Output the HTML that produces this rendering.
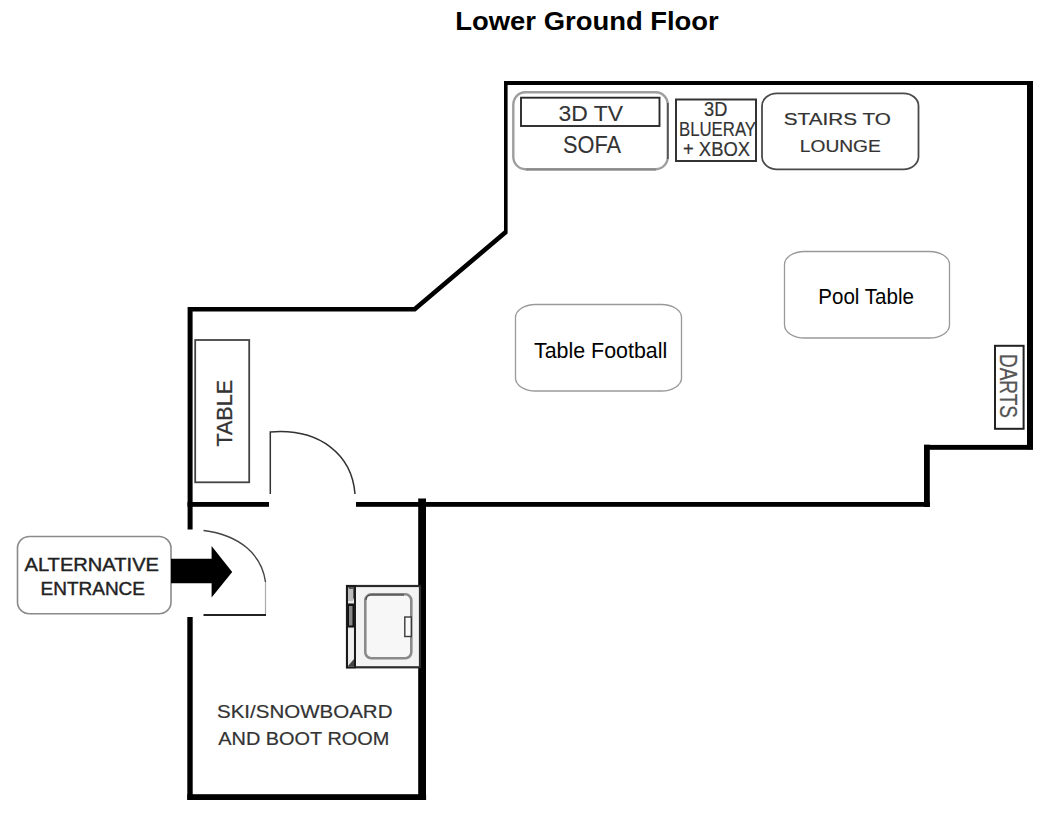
<!DOCTYPE html>
<html><head><meta charset="utf-8">
<style>
html,body{margin:0;padding:0;background:#fff;width:1062px;height:829px;overflow:hidden}
svg{display:block}
text{font-family:"Liberation Sans",sans-serif}
</style></head>
<body>
<svg width="1062" height="829" viewBox="0 0 1062 829">
<rect width="1062" height="829" fill="#fff"/>
<!-- title -->
<text x="455.3" y="30.4" font-size="26.5" font-weight="bold" fill="#000" textLength="263.5" lengthAdjust="spacingAndGlyphs">Lower Ground Floor</text>

<!-- walls -->
<g fill="#000">
  <path d="M187.6 307 L413.7 307 L504 230.5 L504 81 L507.6 81 L507.6 233.5 L415.5 311.5 L192.6 311.5 L192.6 529.5 L187.6 529.5 Z"/>
  <rect x="504" y="81" width="529" height="4"/>
  <rect x="1027" y="81" width="6" height="368.3"/>
  <rect x="924" y="444.9" width="109" height="4.9"/>
  <rect x="924" y="444.7" width="5.8" height="62.3"/>
  <rect x="356" y="502" width="573.8" height="4.8"/>
  <rect x="187.5" y="502" width="81.5" height="4.8"/>
  <rect x="187.3" y="617" width="5.4" height="183"/>
  <rect x="187.3" y="794.2" width="238.8" height="5.8"/>
  <rect x="418.2" y="498.5" width="7.8" height="301.5"/>
</g>

<!-- sofa -->
<rect x="513.3" y="92.2" width="154.5" height="77" rx="12" ry="12.5" fill="none" stroke="#9e9e9e" stroke-width="2.4"/>
<path d="M667.8 103 V159" fill="none" stroke="#555" stroke-width="1.7"/>
<path d="M526 169.4 H656" fill="none" stroke="#888" stroke-width="2"/>
<rect x="521" y="97.7" width="138.5" height="28.3" fill="#fff" stroke="#2a2a2a" stroke-width="1.9"/>
<text x="558.6" y="120.5" font-size="22.5" fill="#333" stroke="#333" stroke-width="0.1" textLength="64.5" lengthAdjust="spacingAndGlyphs">3D TV</text>
<text x="563" y="152.9" font-size="23" fill="#333" stroke="#333" stroke-width="0.1" textLength="58" lengthAdjust="spacingAndGlyphs">SOFA</text>

<!-- blueray -->
<rect x="676" y="99.5" width="80" height="61.5" fill="none" stroke="#333" stroke-width="2"/>
<text x="704" y="116.4" font-size="20" fill="#333" stroke="#333" stroke-width="0.2" textLength="23.3" lengthAdjust="spacingAndGlyphs">3D</text>
<text x="679" y="135.8" font-size="21" fill="#333" stroke="#333" stroke-width="0.2" textLength="77" lengthAdjust="spacingAndGlyphs">BLUERAY</text>
<text x="683" y="156.4" font-size="20.5" fill="#333" stroke="#333" stroke-width="0.2" textLength="67" lengthAdjust="spacingAndGlyphs">+ XBOX</text>

<!-- stairs -->
<rect x="762" y="93.4" width="156.5" height="75.9" rx="15" ry="12.5" fill="none" stroke="#4a4a4a" stroke-width="1.8"/>
<text x="783.8" y="125" font-size="16.5" fill="#333" stroke="#333" stroke-width="0.2" textLength="107" lengthAdjust="spacingAndGlyphs">STAIRS TO</text>
<text x="799.8" y="152.2" font-size="16.5" fill="#333" stroke="#333" stroke-width="0.2" textLength="81" lengthAdjust="spacingAndGlyphs">LOUNGE</text>

<!-- pool table -->
<rect x="784.5" y="251.5" width="165" height="86.5" rx="20" ry="13" fill="none" stroke="#999" stroke-width="1.3"/>
<text x="818.3" y="303.8" font-size="22" fill="#000" textLength="95.6" lengthAdjust="spacingAndGlyphs">Pool Table</text>

<!-- table football -->
<rect x="515.5" y="304.5" width="166" height="86.5" rx="20" ry="13" fill="none" stroke="#999" stroke-width="1.3"/>
<text x="534" y="357.7" font-size="22" fill="#000" textLength="133.2" lengthAdjust="spacingAndGlyphs">Table Football</text>

<!-- darts -->
<rect x="995" y="345.8" width="28.6" height="83" fill="none" stroke="#222" stroke-width="2"/>
<text transform="translate(1000 354) rotate(90)" x="0" y="0" font-size="24" fill="#555" stroke="#555" stroke-width="0.25" textLength="64" lengthAdjust="spacingAndGlyphs">DARTS</text>

<!-- left table -->
<rect x="195.2" y="340" width="54" height="142.3" fill="none" stroke="#444" stroke-width="1.8"/>
<text transform="translate(232 446.5) rotate(-90)" x="0" y="0" font-size="22" fill="#333" stroke="#333" stroke-width="0.3" textLength="66.5" lengthAdjust="spacingAndGlyphs">TABLE</text>

<!-- door 1 -->
<path d="M270.3 494 V432 C 320 428, 352 455, 355 494" fill="none" stroke="#333" stroke-width="1.5"/>

<!-- door 2 -->
<path d="M203.5 530.5 C 240 535, 262 555, 265.5 582" fill="none" stroke="#444" stroke-width="1.4"/>
<path d="M265.5 582 V615" fill="none" stroke="#aaa" stroke-width="1.2"/>
<path d="M203.5 615 H266" fill="none" stroke="#222" stroke-width="1.8"/>

<!-- alt entrance box -->
<rect x="17.5" y="536.5" width="153.5" height="77.3" rx="12" ry="11.5" fill="#fff" stroke="#8a8a8a" stroke-width="1.6"/>
<text x="24.5" y="570.8" font-size="18" fill="#222" stroke="#222" stroke-width="0.4" textLength="134.5" lengthAdjust="spacingAndGlyphs">ALTERNATIVE</text>
<text x="40.5" y="595.3" font-size="18" fill="#222" stroke="#222" stroke-width="0.4" textLength="104.5" lengthAdjust="spacingAndGlyphs">ENTRANCE</text>

<!-- arrow -->
<path d="M171 558.8 H211.6 V546 L232.2 572 L211.6 597.5 V583.2 H171 Z" fill="#000"/>

<!-- washer -->
<g>
  <rect x="347" y="586" width="73" height="81.3" fill="#f3f3f3" stroke="#2a2a2a" stroke-width="2.2"/>
  <rect x="347" y="586" width="8" height="81.3" fill="#e6e6e6" stroke="#1a1a1a" stroke-width="2"/>
  <path d="M348 587 L354 587 L354 600 Z" fill="#555"/>
  <rect x="348" y="589" width="5" height="12" fill="#bbb"/>
  <rect x="348" y="603.5" width="6" height="24" fill="#111"/>
  <rect x="349" y="606" width="3.5" height="19.5" fill="#888"/>
  <rect x="348.5" y="629" width="5" height="31" fill="#f0f0f0"/>
  <path d="M348 666 L354 666 L354 659 Z" fill="#444"/>
  <rect x="365.3" y="594.3" width="46" height="64" rx="6" fill="#f7f7f7" stroke="#8a8a8a" stroke-width="2.6"/>
  <path d="M366 600 Q366 595 371 595 L404 595" fill="none" stroke="#333" stroke-width="1"/>
  <rect x="404.8" y="617" width="6.5" height="19.5" fill="#fafafa" stroke="#3a3a3a" stroke-width="1.4"/>
</g>

<!-- ski room -->
<text x="217" y="718.1" font-size="17.5" fill="#333" stroke="#333" stroke-width="0.2" textLength="175.5" lengthAdjust="spacingAndGlyphs">SKI/SNOWBOARD</text>
<text x="218.3" y="744.8" font-size="17.5" fill="#333" stroke="#333" stroke-width="0.2" textLength="171" lengthAdjust="spacingAndGlyphs">AND BOOT ROOM</text>
</svg>
</body></html>
